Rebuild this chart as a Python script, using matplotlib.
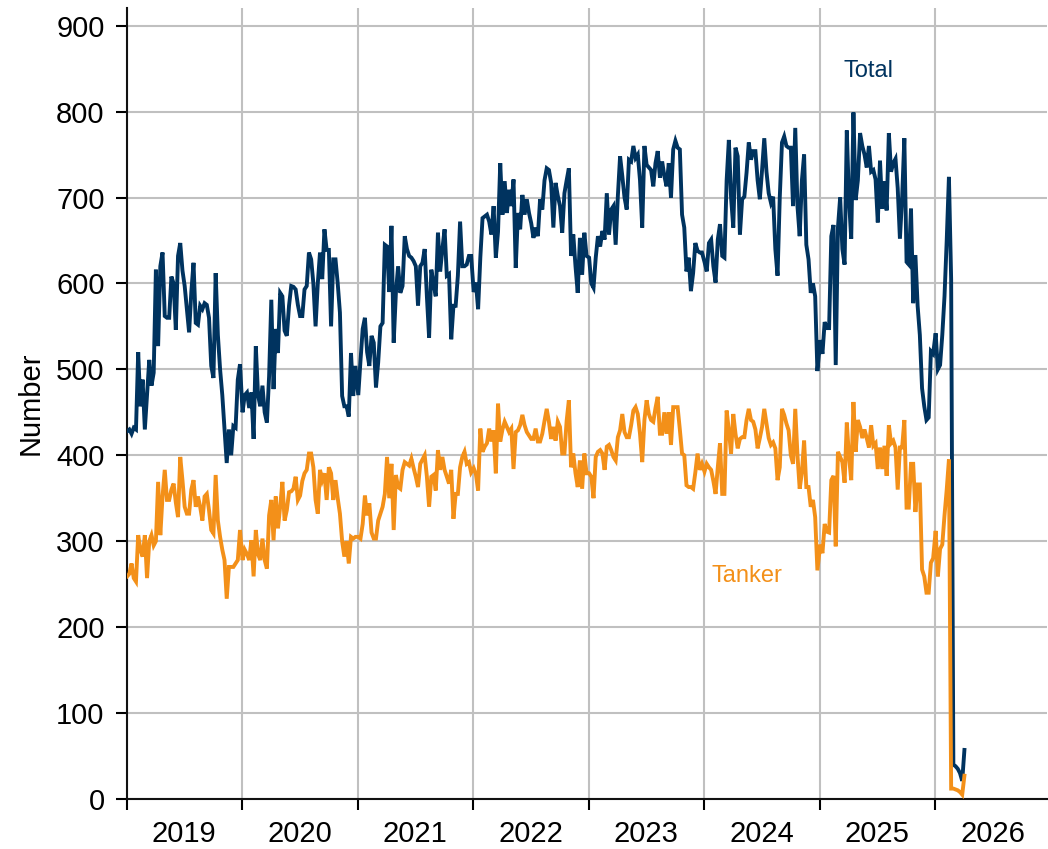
import numpy as np
import pandas as pd
import matplotlib
matplotlib.use("Agg")
import matplotlib.pyplot as plt
import matplotlib.dates as mdates

plt.rcParams['font.family'] = ['Liberation Sans', 'DejaVu Sans']

# weekly ship counts, one list per calendar year
total_2019 = [428, 430, 425, 432, 430, 520, 457, 488, 430, 470,
              511, 481, 496, 616, 527, 620, 636, 562, 560, 560,
              608, 600, 546, 632, 647, 615, 597, 570, 543, 590,
              624, 554, 552, 574, 570, 577, 575, 560, 504, 490,
              612, 540, 500, 470, 430, 391, 430, 400, 434, 432, 488, 506]
total_2020 = [450, 470, 473, 455, 473, 419, 527, 470, 457, 481,
              450, 438, 492, 581, 477, 547, 519, 589, 585, 545,
              539, 574, 597, 596, 593, 575, 562, 562, 593, 597,
              636, 628, 600, 550, 600, 636, 605, 663, 639, 639,
              550, 628, 628, 600, 566, 469, 457, 457, 445, 519, 469, 504]
total_2021 = [470, 510, 547, 560, 520, 504, 539, 531, 479, 508,
              550, 554, 645, 643, 590, 667, 531, 589, 620, 589,
              597, 655, 640, 632, 630, 626, 620, 574, 620, 624,
              640, 585, 537, 616, 600, 585, 659, 614, 640, 663,
              609, 611, 535, 574, 574, 609, 672, 620, 620, 622, 632, 632]
total_2022 = [590, 601, 570, 630, 676, 678, 680, 672, 657, 690,
              630, 660, 740, 680, 719, 682, 709, 690, 721, 618,
              682, 663, 703, 680, 698, 682, 670, 653, 665, 655,
              698, 686, 720, 734, 732, 717, 665, 717, 702, 690,
              659, 705, 720, 734, 632, 657, 620, 589, 653, 610, 659, 632]
total_2023 = [630, 600, 595, 630, 655, 643, 661, 651, 705, 657,
              686, 690, 645, 702, 748, 725, 700, 686, 744, 742,
              760, 746, 750, 720, 665, 760, 738, 735, 732, 713,
              740, 754, 723, 742, 725, 713, 740, 700, 756, 766,
              758, 756, 680, 665, 614, 630, 591, 612, 647, 638, 636, 636]
total_2024 = [625, 614, 647, 651, 620, 601, 651, 669, 632, 630,
              720, 767, 700, 665, 758, 748, 657, 698, 701, 729,
              764, 744, 754, 754, 720, 698, 732, 769, 730, 705,
              694, 701, 640, 609, 700, 764, 771, 760, 758, 758,
              690, 781, 690, 655, 720, 750, 645, 628, 589, 600, 585, 498]
total_2025 = [534, 518, 555, 548, 548, 655, 668, 505, 665, 700,
              640, 622, 778, 697, 652, 799, 697, 720, 775, 760,
              750, 735, 760, 730, 732, 721, 671, 743, 687, 719,
              685, 775, 730, 740, 745, 711, 652, 700, 769, 625,
              622, 687, 577, 633, 574, 540, 478, 457, 441, 444, 521, 518]
total_2026 = [542, 500, 505, 540, 585, 650, 724, 605, 40, 38, 35, 30, 21, 57]

tanker_2019 = [259, 262, 274, 257, 253, 307, 290, 282, 307, 257,
               300, 307, 295, 300, 369, 307, 352, 383, 348, 348,
               360, 367, 345, 328, 398, 371, 340, 332, 332, 360,
               371, 340, 352, 340, 324, 352, 355, 336, 313, 309,
               377, 324, 305, 290, 278, 233, 270, 270, 270, 274, 278, 313]
tanker_2020 = [278, 290, 285, 278, 301, 259, 313, 285, 278, 303,
               278, 268, 330, 348, 301, 352, 315, 340, 369, 324,
               336, 357, 358, 361, 375, 348, 353, 370, 379, 383,
               402, 402, 386, 348, 332, 383, 371, 379, 348, 386,
               379, 348, 371, 350, 332, 300, 282, 300, 274, 305, 303, 305]
tanker_2021 = [305, 303, 320, 353, 330, 344, 310, 303, 303, 324,
               332, 340, 355, 398, 350, 390, 313, 377, 363, 361,
               383, 392, 390, 388, 396, 385, 375, 363, 390, 395,
               400, 375, 340, 375, 377, 359, 406, 383, 398, 383,
               375, 367, 383, 326, 355, 355, 386, 398, 404, 390, 392, 380]
tanker_2022 = [385, 378, 359, 431, 404, 410, 414, 431, 416, 429,
               379, 460, 416, 430, 439, 433, 427, 431, 384, 427,
               429, 435, 447, 435, 427, 423, 419, 419, 431, 416,
               416, 425, 440, 454, 439, 419, 433, 417, 439, 433,
               402, 402, 440, 464, 386, 402, 379, 363, 394, 361, 402, 379]
tanker_2023 = [379, 375, 350, 398, 404, 406, 402, 383, 410, 412,
               406, 398, 394, 421, 429, 448, 427, 421, 421, 435,
               452, 456, 448, 425, 392, 441, 464, 448, 441, 439,
               455, 468, 425, 425, 450, 425, 450, 412, 456, 456,
               456, 430, 402, 400, 365, 363, 363, 361, 380, 402, 383, 390]
tanker_2024 = [381, 390, 386, 383, 370, 355, 386, 414, 355, 355,
               452, 429, 402, 448, 425, 408, 419, 421, 421, 441,
               454, 441, 439, 430, 408, 420, 433, 454, 437, 420,
               412, 415, 408, 371, 386, 454, 447, 437, 429, 400,
               390, 454, 400, 361, 380, 417, 363, 363, 340, 348, 328, 266]
tanker_2025 = [296, 286, 320, 311, 310, 371, 376, 294, 404, 398,
               392, 368, 438, 398, 371, 462, 404, 441, 433, 420,
               430, 420, 409, 435, 411, 414, 384, 409, 384, 411,
               376, 435, 414, 417, 409, 360, 409, 409, 441, 339,
               339, 390, 390, 334, 366, 366, 267, 259, 240, 240, 275, 280]
tanker_2026 = [312, 259, 291, 296, 330, 360, 395, 12, 12, 11, 10, 8, 5, 27]

years = [2019, 2020, 2021, 2022, 2023, 2024, 2025, 2026]
total_by_year = [total_2019, total_2020, total_2021, total_2022,
                 total_2023, total_2024, total_2025, total_2026]
tanker_by_year = [tanker_2019, tanker_2020, tanker_2021, tanker_2022,
                  tanker_2023, tanker_2024, tanker_2025, tanker_2026]

navy = '#00335f'
orange = '#f39019'
grid_col = '#c0c0c0'


def weekly_dates(yrs, lists):
    out = []
    for y, vals in zip(yrs, lists):
        start = pd.Timestamp(f'{y}-01-01')
        out.extend(start + pd.to_timedelta(7 * np.arange(len(vals)) + 1, unit='D'))
    return pd.DatetimeIndex(out)


dates = weekly_dates(years, total_by_year)
total = np.concatenate(total_by_year)
tanker = np.concatenate(tanker_by_year)

fig = plt.figure(figsize=(10.48, 8.49), dpi=100)
ax = fig.add_axes([0.121, 0.059, 0.878, 0.931])

ax.plot(dates, total, color=navy, lw=2.8, solid_joinstyle='miter', zorder=3)
ax.plot(dates, tanker, color=orange, lw=2.8, solid_joinstyle='miter', zorder=3)

ax.set_ylim(0, 920)
ax.set_yticks(np.arange(0, 901, 100))
ax.set_xlim(pd.Timestamp('2019-01-01'), pd.Timestamp('2026-12-20'))

# year boundaries as major ticks, labels centred in the middle of each year
ax.xaxis.set_major_locator(mdates.YearLocator())
ax.xaxis.set_major_formatter(plt.NullFormatter())
ax.xaxis.set_minor_locator(mdates.MonthLocator(bymonth=7))
ax.xaxis.set_minor_formatter(mdates.DateFormatter('%Y'))
ax.tick_params(axis='x', which='major', length=8, width=1.5, direction='out')
ax.tick_params(axis='x', which='minor', length=0, labelsize=21, pad=15)
ax.tick_params(axis='y', length=8, width=1.5, labelsize=21, pad=8)

ax.grid(True, which='major', color=grid_col, lw=1.5, zorder=0)
ax.set_axisbelow(True)

for side in ['top', 'right']:
    ax.spines[side].set_visible(False)
for side in ['left', 'bottom']:
    ax.spines[side].set_linewidth(1.5)
    ax.spines[side].set_color('#111111')

ax.set_ylabel('Number', fontsize=21, labelpad=8)

ax.text(pd.Timestamp('2025-06-03'), 847, 'Total', color=navy, fontsize=17,
        ha='center', va='center')
ax.text(pd.Timestamp('2024-05-15'), 259, 'Tanker', color=orange, fontsize=17,
        ha='center', va='center')

fig.savefig('out.png', dpi=100)
